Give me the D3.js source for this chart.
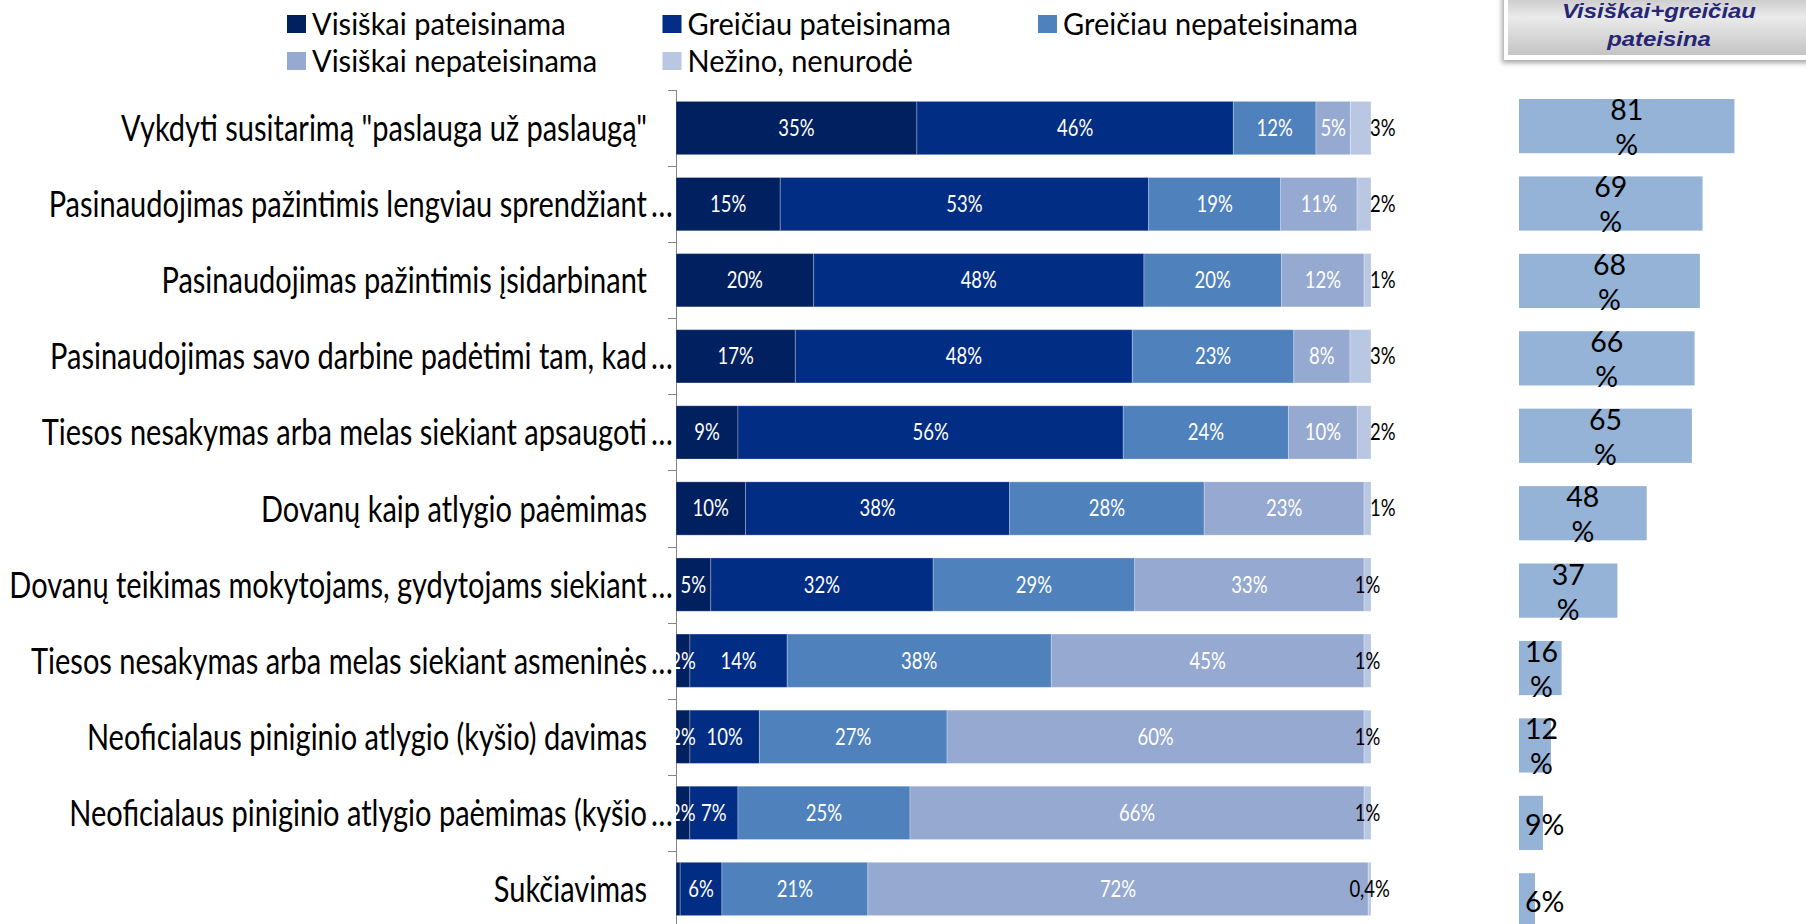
<!DOCTYPE html>
<html>
<head>
<meta charset="utf-8">
<script src="https://cdn.jsdelivr.net/npm/d3@7"></script>
<style>
body { margin: 0; background: #fff; }
svg { display: block; }
text { font-family: Lato, "Open Sans", sans-serif; }
</style>
</head>
<body>
<svg width="1806" height="924"></svg>
<script>
var categories = [
  "Vykdyti susitarimą \"paslauga už paslaugą\"",
  "Pasinaudojimas pažintimis lengviau sprendžiant …",
  "Pasinaudojimas pažintimis įsidarbinant",
  "Pasinaudojimas savo darbine padėtimi tam, kad …",
  "Tiesos nesakymas arba melas siekiant apsaugoti …",
  "Dovanų kaip atlygio paėmimas",
  "Dovanų teikimas mokytojams, gydytojams siekiant …",
  "Tiesos nesakymas arba melas siekiant asmeninės …",
  "Neoficialaus piniginio atlygio (kyšio) davimas",
  "Neoficialaus piniginio atlygio paėmimas (kyšio …",
  "Sukčiavimas"
];
var seriesNames = ["Visiškai pateisinama", "Greičiau pateisinama", "Greičiau nepateisinama", "Visiškai nepateisinama", "Nežino, nenurodė"];
var seriesColors = ["#002060", "#012d84", "#4f81bd", "#95a9d1", "#b9c7e2"];

var visiskaiPateisinama   = [35, 15, 20, 17, 9, 10, 5, 2, 2, 2, 0.6];
var greiciauPateisinama   = [46, 53, 48, 48, 56, 38, 32, 14, 10, 7, 6];
var greiciauNepateisinama = [12, 19, 20, 23, 24, 28, 29, 38, 27, 25, 21];
var visiskaiNepateisinama = [5, 11, 12, 8, 10, 23, 33, 45, 60, 66, 72];
var nezinoNenurode        = [3, 2, 1, 3, 2, 1, 1, 1, 1, 1, 0.4];

var pateisinaTitle = ["Visiškai+greičiau", "pateisina"];
var pateisinaTotal = [81, 69, 68, 66, 65, 48, 37, 16, 12, 9, 6];

var svg = d3.select("svg"),
    width = +svg.attr("width"),
    height = +svg.attr("height");

var values = [visiskaiPateisinama, greiciauPateisinama, greiciauNepateisinama, visiskaiNepateisinama, nezinoNenurode];

var fmt = function(v) { return String(v).replace(".", ",") + "%"; };

var rows = categories.map(function(c, i) {
  var total = d3.sum(values, function(v) { return v[i]; });
  var acc = 0;
  return {
    name: c, i: i,
    segs: values.map(function(v, k) {
      var s = { key: k, i: i, value: v[i], x0: acc / total * 100, x1: (acc + v[i]) / total * 100 };
      acc += v[i];
      return s;
    })
  };
});

var x = d3.scaleLinear().domain([0, 100]).range([676, 1371]);
var y = d3.scaleBand().domain(categories).range([90, 927]).paddingInner(0.3).paddingOuter(0.15);

// legend
var legend = svg.append("g").selectAll("g")
  .data(seriesNames)
  .enter().append("g")
    .attr("transform", function(d, i) { return "translate(" + (287 + (i % 3) * 375.5) + "," + (15 + Math.floor(i / 3) * 37) + ")"; });
legend.append("rect")
  .attr("width", 19).attr("height", 18)
  .attr("fill", function(d, i) { return seriesColors[i]; });
legend.append("text")
  .attr("transform", "translate(25,9) scale(1,1.08)")
  .attr("dy", "0.36em")
  .style("font-size", "29px")
  .attr("fill", "#000")
  .text(function(d) { return d; });

// category axis
var axis = svg.append("g");
axis.append("line")
  .attr("x1", x(0) + 0.5).attr("x2", x(0) + 0.5)
  .attr("y1", y.range()[0]).attr("y2", y.range()[1])
  .attr("stroke", "#868686");
axis.selectAll(".tick")
  .data(categories)
  .enter().append("line")
    .attr("x1", x(0) - 8).attr("x2", x(0))
    .attr("y1", function(d) { return Math.round(y(d) - y.step() * 0.15) + 0.5; })
    .attr("y2", function(d) { return Math.round(y(d) - y.step() * 0.15) + 0.5; })
    .attr("stroke", "#868686");

var catLabels = axis.selectAll(".cat")
  .data(categories)
  .enter().append("text")
    .attr("transform", function(d) { return "translate(0," + (y(d) + y.bandwidth() / 2) + ") scale(1,1.25)"; })
    .attr("dy", "0.36em")
    .style("font-size", "29px")
    .attr("fill", "#000");
catLabels.append("tspan")
  .attr("x", 647)
  .attr("text-anchor", "end")
  .text(function(d) { return d.replace(/ …$/, ""); });
catLabels.filter(function(d) { return / …$/.test(d); })
  .append("tspan")
  .attr("x", 651)
  .text("…");

// stacked bars
var rowG = svg.append("g").selectAll("g")
  .data(rows)
  .enter().append("g")
    .attr("transform", function(d) { return "translate(0," + y(d.name) + ")"; });

rowG.selectAll("rect")
  .data(function(d) { return d.segs; })
  .enter().append("rect")
    .attr("x", function(d) { return x(d.x0); })
    .attr("width", function(d) { return x(d.x1) - x(d.x0); })
    .attr("height", y.bandwidth())
    .attr("fill", function(d) { return seriesColors[d.key]; })
    .attr("stroke", "#fff")
    .attr("stroke-opacity", 0.25)
    .attr("stroke-width", 1);

rowG.selectAll("text")
  .data(function(d) { return d.segs.filter(function(s) { return s.value >= 1 || s.key === 4; }); })
  .enter().append("text")
    .attr("transform", function(d) {
      var lx = (d.key === 4 && d.i < 6) ? x(d.x1) - 1 : (x(d.x0) + x(d.x1)) / 2;
      return "translate(" + lx + "," + (y.bandwidth() / 2) + ") scale(1,1.2)";
    })
    .attr("text-anchor", function(d) { return d.key === 4 && d.i < 6 ? "start" : "middle"; })
    .attr("dy", "0.36em")
    .style("font-size", "18.5px")
    .attr("fill", function(d) { return d.key === 4 ? "#000" : "#fff"; })
    .text(function(d) { return fmt(d.value); });

// header box
var defs = svg.append("defs");
var grad = defs.append("linearGradient").attr("id", "hdr").attr("x1", 0).attr("y1", 0).attr("x2", 0).attr("y2", 1);
grad.append("stop").attr("offset", "0%").attr("stop-color", "#bdbdbd");
grad.append("stop").attr("offset", "42%").attr("stop-color", "#eaeaea");
grad.append("stop").attr("offset", "100%").attr("stop-color", "#c4c4c4");
var shadow = defs.append("filter").attr("id", "shd").attr("x", "-10%").attr("y", "-10%").attr("width", "130%").attr("height", "140%");
shadow.append("feDropShadow").attr("dx", -2).attr("dy", 3).attr("stdDeviation", 2.5).attr("flood-color", "#000").attr("flood-opacity", 0.35);

svg.append("rect")
  .attr("x", 1504).attr("y", -10).attr("width", 330).attr("height", 70)
  .attr("fill", "#fff").attr("filter", "url(#shd)");
svg.append("rect")
  .attr("x", 1508).attr("y", -10).attr("width", 330).attr("height", 65)
  .attr("fill", "url(#hdr)");
svg.append("g").selectAll("text")
  .data(pateisinaTitle)
  .enter().append("text")
    .attr("transform", function(d, i) { return "translate(1659," + (17.5 + i * 28) + ") scale(1.14,1)"; })
    .attr("text-anchor", "middle")
    .style("font-family", "'Liberation Sans', Arial, sans-serif")
    .style("font-size", "21px").style("font-weight", "bold").style("font-style", "italic")
    .attr("fill", "#262673")
    .text(function(d) { return d; });

// right bars
var x2 = d3.scaleLinear().domain([0, 100]).range([1519, 1785]);
var y2 = d3.scaleBand().domain(categories).range([87.4, 939]).paddingInner(0.3).paddingOuter(0.15);

var tot = svg.append("g").selectAll("g")
  .data(pateisinaTotal)
  .enter().append("g")
    .attr("transform", function(d, i) { return "translate(0," + y2(categories[i]) + ")"; });
tot.append("rect")
  .attr("x", x2(0))
  .attr("width", function(d) { return x2(d) - x2(0); })
  .attr("height", y2.bandwidth())
  .attr("fill", "#95b3d7");
tot.each(function(d) {
  var g = d3.select(this);
  var lines = d >= 10 ? [String(d), "%"] : [d + "%"];
  var base = lines.length > 1 ? [21, 56] : [y2.bandwidth() / 2 + 12];
  var t = g.selectAll("text")
    .data(lines)
    .enter().append("text")
      .attr("text-anchor", "middle")
      .attr("y", function(l, j) { return base[j]; })
      .style("font-size", "28.5px")
      .attr("fill", "#000")
      .text(function(l) { return l; });
  var w = d3.max(t.nodes(), function(n) { return n.getComputedTextLength(); });
  var cx = Math.max((x2(0) + x2(d)) / 2, x2(0) + 6 + w / 2);
  t.attr("x", cx);
});
</script>
</body>
</html>
